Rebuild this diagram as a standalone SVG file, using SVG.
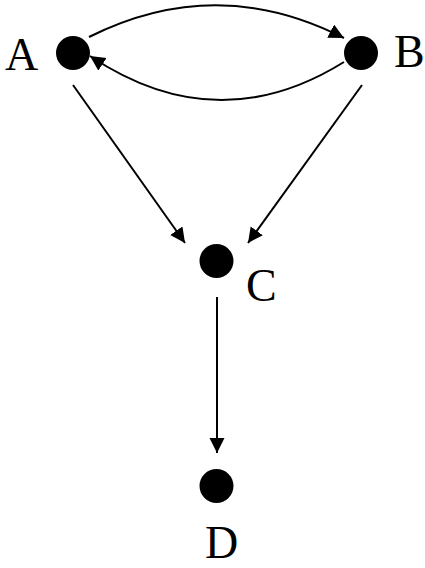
<svg xmlns="http://www.w3.org/2000/svg" width="425" height="568" viewBox="0 0 425 568">
<style>
.edge{fill:none;stroke:#000;stroke-width:2}
.node{fill:#000}
.lbl{font-family:"Liberation Serif","Times New Roman",serif;font-size:46px;fill:#000}
</style>
<defs>
<marker id="arr" markerUnits="userSpaceOnUse" markerWidth="16" markerHeight="16" refX="15" refY="7.5" orient="auto">
<path d="M0,0 L15,7.5 L0,15 z" fill="#000"/>
</marker>
</defs>
<rect width="425" height="568" fill="#fff"/>
<g id="connectors">
<path class="edge" d="M89,37 Q217,-27 344,38" marker-end="url(#arr)"/>
<path class="edge" d="M344,62 Q217,141 90,56" marker-end="url(#arr)"/>
<path class="edge" d="M73,85 L185,243" marker-end="url(#arr)"/>
<path class="edge" d="M362,85 L248,243" marker-end="url(#arr)"/>
<path class="edge" d="M217,297 L217,453" marker-end="url(#arr)"/>
</g>
<g id="A"><circle class="node" cx="73" cy="53" r="17"/><text class="lbl" x="5" y="70">A</text></g>
<g id="B"><circle class="node" cx="361" cy="53" r="17"/><text class="lbl" x="394" y="67">B</text></g>
<g id="C"><circle class="node" cx="216.5" cy="261" r="17"/><text class="lbl" x="246" y="301">C</text></g>
<g id="D"><circle class="node" cx="216.5" cy="486" r="17"/><text class="lbl" x="205" y="558">D</text></g>
</svg>
